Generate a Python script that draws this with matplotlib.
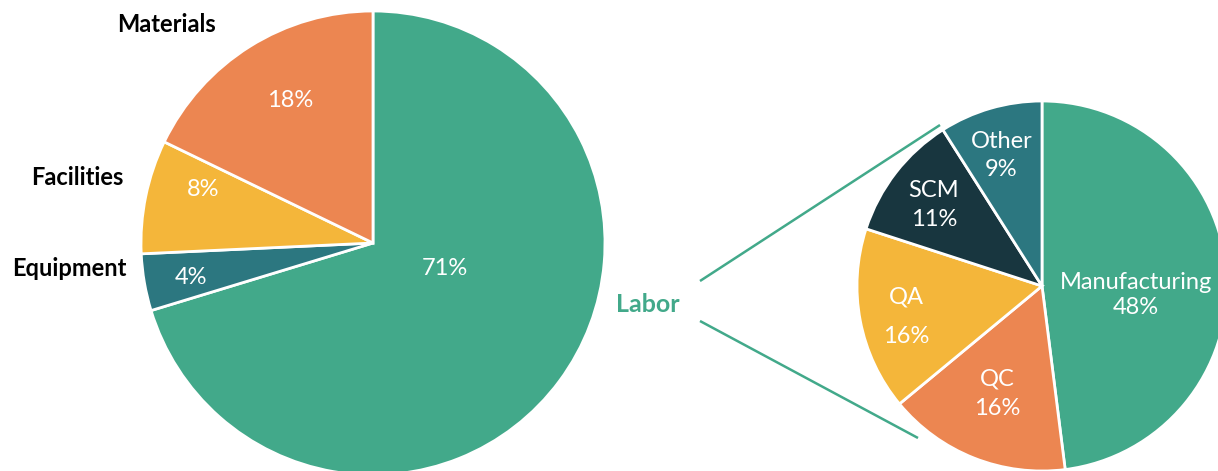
import numpy as np
import matplotlib
matplotlib.use("Agg")
import matplotlib.pyplot as plt

plt.rcParams["font.family"] = ["Lato", "DejaVu Sans"]

# overall cost split
cost_labels = ["Labor", "Equipment", "Facilities", "Materials"]
cost_values = [71, 4, 8, 18]

# breakdown of the labor slice
labor_labels = ["Manufacturing", "QC", "QA", "SCM", "Other"]
labor_values = [48, 16, 16, 11, 9]

GREEN = "#42a98a"
ORANGE = "#ec8651"
YELLOW = "#f4b63a"
TEAL = "#2c7780"
DARK = "#18363f"

W, H = 1218, 471
fig = plt.figure(figsize=(W / 100, H / 100), dpi=100)
ax = fig.add_axes([0, 0, 1, 1])

main_c, main_r = (373, 228), 232
sub_c, sub_r = (1042, 185), 185

wedge_kw = dict(edgecolor="white", linewidth=2)
main_w, _ = ax.pie(cost_values, colors=[GREEN, TEAL, YELLOW, ORANGE],
                   startangle=90, counterclock=False, center=main_c,
                   radius=main_r, wedgeprops=wedge_kw)
sub_w, _ = ax.pie(labor_values, colors=[GREEN, ORANGE, YELLOW, DARK, TEAL],
                  startangle=90, counterclock=False, center=sub_c,
                  radius=sub_r, wedgeprops=wedge_kw)


def polar(c, r, ang, frac):
    a = np.deg2rad(ang)
    return c[0] + frac * r * np.cos(a), c[1] + frac * r * np.sin(a)


def mid(w):
    return (w.theta1 + w.theta2) / 2


# percentage labels inside the main pie: (angle shift, radius fraction)
main_pct_pos = [(17, 0.33), (1, 0.80), (-6, 0.77), (-2, 0.71)]
for w, v, (da, f) in zip(main_w, cost_values, main_pct_pos):
    x, y = polar(main_c, main_r, mid(w) + da, f)
    ax.text(x, y, f"{v}%", color="white", fontsize=17, ha="center", va="center")

# category names outside the main pie (right-aligned)
main_name_pos = {"Equipment": (186.0, 1.07), "Facilities": (165.3, 1.11),
                 "Materials": (125.8, 1.16)}
for name in cost_labels[1:]:
    ang, f = main_name_pos[name]
    x, y = polar(main_c, main_r, ang, f)
    ax.text(x, y, name, color="black", fontsize=17, fontweight="bold",
            ha="right", va="center")

# labels inside the labor breakdown
sub_pos = [(-9, 0.51, 1.2), (-1, 0.63, 1.5), (2, 0.75, 2.1),
           (1, 0.73, 1.5), (1, 0.74, 1.4)]
for w, name, v, (da, f, ls) in zip(sub_w, labor_labels, labor_values, sub_pos):
    x, y = polar(sub_c, sub_r, mid(w) + da, f)
    ax.text(x, y, f"{name}\n{v}%", color="white", fontsize=17, ha="center",
            va="center", linespacing=ls)

# connector lines from the "Labor" tag to the breakdown pie
ax.plot([700, 940], [190, 346], color=GREEN, lw=1.8, solid_capstyle="butt")
ax.plot([700, 918], [150, 33], color=GREEN, lw=1.8, solid_capstyle="butt")
ax.text(648, 167, "Labor", color=GREEN, fontsize=18, fontweight="bold",
        ha="center", va="center")

ax.set_xlim(0, W)
ax.set_ylim(0, H)
ax.set_aspect("equal")
ax.axis("off")

fig.savefig("out.png", dpi=100)
